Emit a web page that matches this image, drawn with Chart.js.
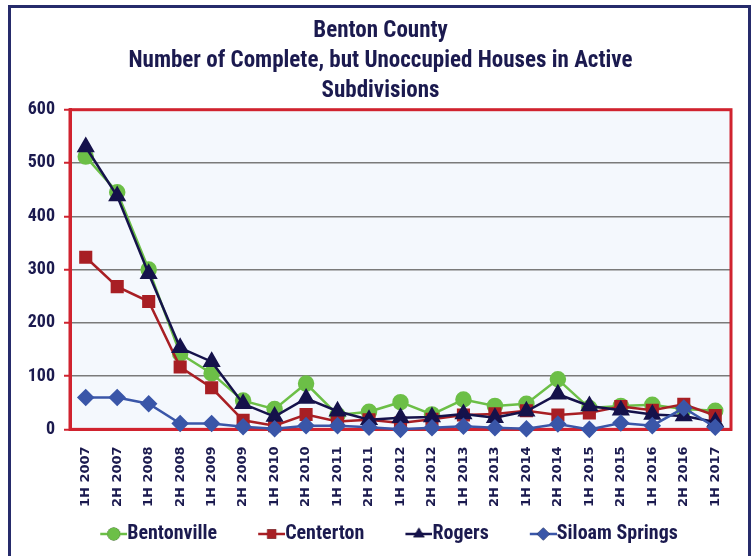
<!DOCTYPE html>
<html>
<head>
<meta charset="utf-8">
<script src="https://cdn.jsdelivr.net/npm/chart.js@4/dist/chart.umd.min.js"></script>
<style>
  body { margin: 0; background: #fff; }
  #wrap { position: relative; width: 755px; height: 556px; }
  #frame { position: absolute; left: 8px; top: 5px; width: 743px; height: 600px; border: 3px solid #262b6b; box-sizing: border-box; }
  canvas { position: absolute; left: 0; top: 0; }
</style>
</head>
<body>
<div id="wrap">
  <div id="frame"></div>
  <canvas id="chart" width="755" height="556"></canvas>
</div>
<script>
var periods = ['1H 2007', '2H 2007', '1H 2008', '2H 2008', '1H 2009', '2H 2009', '1H 2010', '2H 2010',
  '1H 2011', '2H 2011', '1H 2012', '2H 2012', '1H 2013', '2H 2013', '1H 2014', '2H 2014',
  '1H 2015', '2H 2015', '1H 2016', '2H 2016', '1H 2017']

var bentonville = [512, 445, 300, 142, 105, 54, 38, 86, 27, 33, 51, 28, 56, 44, 48, 94, 40, 44, 46, 38, 35]
var centerton = [323, 268, 240, 117, 78, 17, 7, 28, 15, 18, 12, 19, 27, 29, 35, 27, 31, 43, 36, 47, 26]
var rogers = [530, 438, 292, 153, 127, 48, 24, 58, 34, 18, 22, 23, 29, 22, 34, 66, 44, 36, 28, 25, 14]
var siloam = [60, 60, 48, 11, 11, 5, 1, 7, 7, 4, 0, 3, 6, 3, 1, 10, 0, 12, 7, 40, 4]

var yTicks = [0, 100, 200, 300, 400, 500, 600]

var textColor = '#1b1a4f'
var narrow = "'Liberation Sans Narrow', 'Roboto Condensed', 'Open Sans', sans-serif"
var redLine = '#d0232f'

// legend icon: blank gap on the left, then a line through the marker running up to the text
var legendSize = 20
var iconGap = 33
var iconW = 17
function legendIcon (color, style) {
  var c = document.createElement('canvas')
  var half = legendSize / 2
  c.width = iconGap + iconW + legendSize
  c.height = 16
  var g = c.getContext('2d')
  var x0 = half + iconGap
  var x1 = c.width
  g.strokeStyle = color
  g.lineWidth = 2.5
  g.beginPath()
  g.moveTo(x0, 8)
  g.lineTo(x1, 8)
  g.stroke()
  Chart.helpers.drawPoint(g, { pointStyle: style, radius: 6.5, rotation: 0, borderWidth: 0 }, (x0 + x1) / 2, 8)
  g.fillStyle = color
  g.fill()
  return c
}

var series = [
  { label: 'Bentonville', data: bentonville, color: '#6cbf47', style: 'circle', r: 7, order: 3 },
  { label: 'Centerton', data: centerton, color: '#a81f24', style: 'rect', r: 7.5, order: 2 },
  { label: 'Rogers', data: rogers, color: '#15124b', style: 'triangle', r: 8, order: 1 },
  { label: 'Siloam Springs', data: siloam, color: '#3a56a8', style: 'rectRot', r: 7, order: 0 }
]

var frame = {
  id: 'frame',
  afterLayout: function (chart) {
    // title a bit right of centre, legend a bit left
    chart.titleBlock.left += 2
    chart.titleBlock.right += 2
    chart.legend.left -= 6
    chart.legend.right -= 6
  },
  beforeDraw: function (chart) {
    var a = chart.chartArea
    var ctx = chart.ctx
    ctx.save()
    ctx.fillStyle = '#f4f8fd'
    ctx.fillRect(a.left, a.top, a.right - a.left, a.bottom - a.top)
    ctx.restore()
  },
  beforeDatasetsDraw: function (chart) {
    var a = chart.chartArea
    var ctx = chart.ctx
    ctx.save()
    ctx.strokeStyle = redLine
    ctx.lineWidth = 3
    ctx.strokeRect(a.left, a.top, a.right - a.left, a.bottom - a.top)
    ctx.restore()
  }
}

new Chart(document.getElementById('chart'), {
  type: 'line',
  data: {
    labels: periods,
    datasets: series.map(function (s) {
      return {
        label: s.label,
        data: s.data,
        borderColor: s.color,
        backgroundColor: s.color,
        pointBackgroundColor: s.color,
        pointBorderColor: s.color,
        pointStyle: s.style,
        pointRadius: s.r,
        borderWidth: 2.5,
        tension: 0,
        clip: false,
        order: s.order
      }
    })
  },
  options: {
    responsive: false,
    animation: false,
    layout: { padding: { left: 26, right: 24, top: 4, bottom: 2 } },
    plugins: {
      title: {
        display: true,
        text: ['Benton County', 'Number of Complete, but Unoccupied Houses in Active', 'Subdivisions'],
        color: textColor,
        font: { family: narrow, size: 23, weight: 'bold', lineHeight: 1.3 },
        padding: { top: 12, bottom: 4 }
      },
      legend: {
        position: 'bottom',
        labels: {
          usePointStyle: true,
          pointStyleWidth: iconGap + iconW,
          color: textColor,
          font: { family: narrow, size: legendSize, weight: 'bold' },
          padding: 8,
          generateLabels: function (chart) {
            return series.map(function (s, i) {
              return {
                text: s.label,
                datasetIndex: i,
                pointStyle: legendIcon(s.color, s.style),
                fillStyle: s.color,
                strokeStyle: s.color,
                lineWidth: 0,
                fontColor: textColor
              }
            })
          }
        }
      },
      tooltip: { enabled: false }
    },
    scales: {
      x: {
        offset: true,
        grid: { display: false },
        border: { display: true, color: redLine, width: 3 },
        ticks: {
          minRotation: 90,
          maxRotation: 90,
          autoSkip: false,
          padding: 9,
          color: textColor,
          font: { family: "'DejaVu Sans', sans-serif", size: 13, weight: 'bold' }
        }
      },
      y: {
        min: 0,
        max: 600,
        afterBuildTicks: function (axis) {
          axis.ticks = yTicks.map(function (v) { return { value: v } })
        },
        afterFit: function (axis) {
          axis.width = 44
        },
        grid: { color: '#7a7a7a', lineWidth: 1.5, tickLength: 6, tickColor: redLine, tickWidth: 2 },
        border: { display: true, color: redLine, width: 3 },
        ticks: {
          padding: 9,
          color: textColor,
          font: { family: narrow, size: 18, weight: 'bold' }
        }
      }
    }
  },
  plugins: [frame]
})
</script>
</body>
</html>
